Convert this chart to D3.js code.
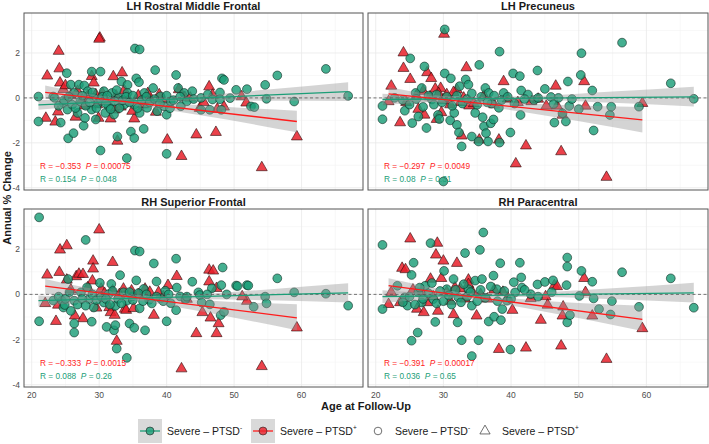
<!DOCTYPE html>
<html>
<head>
<meta charset="utf-8">
<script src="https://cdn.jsdelivr.net/npm/d3@7"></script>
<style>
  body { margin: 0; background: #fff; font-family: "Liberation Sans", Arial, sans-serif; }
  .stat { white-space: pre; }
</style>
</head>
<body>
<div id="container"></div>
<script>
const width = 709;
const height = 444;

const panelTitles = ["LH Rostral Middle Frontal", "LH Precuneus", "RH Superior Frontal", "RH Paracentral"];
const xTicks = [20, 30, 40, 50, 60];
const yTicks = [-4, -2, 0, 2];
const xMinor = [25, 35, 45, 55, 65];
const yMinor = [-3, -1, 1, 3];

// [age, annual % change]  circles = Severe-PTSD-, triangles = Severe-PTSD+
const p1Neg = [[21.0,0.06],[21.0,-1.05],[23.2,0.06],[23.4,0.0],[24.3,-1.1],[24.7,-0.23],[25.2,1.1],[25.3,-0.52],[25.4,-1.8],[25.8,0.59],[26.2,-1.57],[26.3,0.22],[26.8,-0.67],[27.0,0.59],[27.7,-1.24],[27.8,0.55],[27.9,-0.89],[28.3,0.3],[28.9,1.17],[28.9,-0.52],[29.2,0.0],[29.5,-0.96],[29.9,-0.22],[30.2,1.17],[30.2,-2.34],[30.7,0.3],[30.9,-0.67],[31.4,-0.37],[31.9,0.22],[32.2,-0.74],[32.7,-1.72],[32.9,0.0],[33.3,0.73],[33.7,-0.3],[34.1,-2.68],[34.2,0.58],[34.2,0.22],[34.7,-1.5],[35.2,-1.79],[35.2,-0.3],[35.3,2.2],[35.5,0.87],[35.9,0.7],[36.0,2.16],[36.0,-0.67],[36.6,-1.38],[36.7,0.22],[37.1,-0.44],[38.0,0.44],[38.3,1.24],[38.6,-0.59],[39.1,0.07],[39.6,-0.37],[40.0,-0.75],[40.0,-2.49],[40.5,-0.46],[40.6,-0.15],[41.4,1.02],[41.7,0.44],[42.1,-0.37],[42.6,0.22],[43.8,0.3],[45.1,0.0],[45.1,-0.53],[46.1,0.15],[46.4,-0.53],[46.8,-0.07],[47.9,0.24],[47.9,-0.06],[48.1,-0.53],[48.2,0.87],[48.5,0.8],[49.4,-0.01],[50.3,0.36],[51.9,0.39],[52.5,-0.38],[53.0,-0.41],[54.6,0.58],[54.8,-0.04],[56.4,1.0],[58.9,-0.16],[63.6,1.29],[66.9,0.09],
  [24.0,-0.35],[24.8,-0.1],[25.5,0.05],[26.0,-0.3],[26.5,-0.45],[27.2,-0.15],[27.5,0.1],[28.0,-0.35],[28.6,-0.2],[29.0,0.25],[29.6,-0.45],[30.3,-0.1],[30.5,0.05],[31.0,-0.25],[31.2,0.1],[31.7,-0.5],[32.3,-0.15],[32.6,0.35],[33.0,-0.45],[33.5,-0.1],[34.0,0.05],[34.5,-0.2],[35.0,0.1],[35.7,-0.45],[36.3,-0.1],[37.0,0.05],[37.5,-0.2],[38.2,-0.05],[39.0,-0.25],[40.0,0.1],[41.0,-0.1],[42.0,0.05],[43.0,-0.15],[44.0,-0.05]];
const p1Pos = [[22.1,-0.9],[22.3,0.98],[23.5,-1.07],[23.9,-0.62],[24.0,2.08],[24.1,1.3],[24.2,0.67],[24.7,0.38],[25.0,0.55],[26.5,-0.85],[27.5,-0.07],[28.9,0.96],[29.2,0.67],[29.5,0.15],[29.9,-0.9],[30.1,2.67],[30.0,2.62],[31.7,-0.93],[32.1,0.95],[32.3,-0.53],[32.7,-1.92],[33.4,1.12],[33.7,0.34],[35.2,-0.93],[34.9,-0.59],[37.6,-0.07],[38.4,-0.63],[38.9,0.15],[40.1,-1.87],[41.8,0.37],[42.2,-2.6],[42.7,0.03],[44.4,-1.64],[44.9,-0.46],[46.3,0.5],[46.8,0.13],[47.3,-1.53],[47.5,-0.5],[51.1,0.06],[51.8,-0.22],[54.1,-3.1],[59.3,-1.73],
  [25.8,0.1],[26.8,0.3],[27.8,-0.35],[28.3,0.1],[29.7,-0.3],[30.5,0.2],[31.0,-0.15],[32.5,0.1],[33.2,-0.4],[34.2,-0.15],[35.8,0.1],[36.5,-0.3],[37.2,0.2],[39.5,-0.1],[43.5,0.0],[45.5,-0.2],[48.5,-0.4]];

const p2Neg = [[21.0,-0.95],[21.0,-0.36],[22.8,0.0],[24.3,-0.57],[25.1,1.76],[25.4,-1.12],[25.9,0.22],[26.3,-0.83],[26.8,0.44],[27.2,1.4],[27.5,-1.34],[28.3,-0.07],[29.2,-0.76],[29.4,-0.94],[30.0,-3.72],[30.2,3.05],[30.2,1.09],[31.0,-1.0],[31.1,0.87],[31.6,-0.67],[32.0,-1.2],[32.3,-1.54],[32.4,0.52],[32.7,-2.16],[33.3,0.82],[33.7,0.59],[34.2,-1.72],[34.7,-0.67],[35.2,-1.94],[35.3,1.47],[35.8,-0.86],[36.0,-1.27],[36.2,0.44],[36.3,-1.57],[36.6,-1.94],[36.7,0.22],[37.0,-1.13],[37.1,-0.25],[37.4,-0.96],[38.2,-0.44],[38.3,2.06],[38.3,-1.99],[38.9,0.22],[39.9,-1.54],[40.3,1.09],[41.3,0.97],[41.5,0.33],[41.4,-0.76],[42.5,0.15],[43.4,-0.1],[43.9,1.22],[45.0,0.4],[45.9,0.04],[46.3,-0.27],[46.4,-1.1],[47.6,-0.68],[48.1,-1.05],[48.4,0.73],[48.6,-0.36],[50.0,-0.5],[50.3,1.02],[50.4,1.99],[52.0,0.33],[52.2,-1.45],[52.8,-0.39],[54.6,-0.76],[54.8,-0.39],[56.4,2.46],[58.9,-0.39],[63.6,0.65],[67.0,-0.04],
  [24.0,-0.1],[25.0,-0.3],[26.0,-0.05],[27.0,-0.4],[27.8,0.1],[28.6,-0.3],[29.0,0.15],[29.8,-0.2],[30.5,0.05],[31.3,-0.35],[32.0,0.1],[32.8,-0.25],[33.5,-0.05],[34.2,0.2],[35.0,-0.3],[35.6,0.05],[36.5,-0.2],[37.5,0.1],[38.6,-0.1],[39.5,0.05],[40.5,-0.25],[42.0,-0.05],[44.0,0.0],[47.0,0.0],[49.0,-0.05]];
const p2Pos = [[21.9,-0.16],[22.3,0.53],[23.6,-1.1],[24.1,2.01],[24.1,1.32],[25.1,0.83],[26.3,-0.5],[27.2,-0.76],[27.6,1.13],[28.2,0.87],[29.0,-0.95],[29.6,0.43],[29.7,-0.65],[30.1,2.84],[32.0,0.36],[32.7,-1.69],[33.4,1.35],[35.3,-1.87],[38.2,-1.87],[38.9,0.73],[40.7,-2.93],[42.2,-2.13],[43.0,-0.16],[45.2,-0.36],[46.6,0.53],[46.8,-0.36],[47.4,-2.39],[47.6,-0.76],[50.8,0.73],[51.0,-0.36],[54.1,-3.53],[59.4,-0.24],
  [24.5,-0.2],[26.0,0.1],[27.0,0.3],[28.0,0.05],[28.8,0.4],[29.3,0.2],[30.0,-0.1],[30.5,0.15],[31.0,-0.3],[31.5,0.25],[32.5,-0.2],[33.0,0.0],[33.8,-0.35],[34.5,-0.25],[36.0,0.1],[37.5,-0.3],[39.5,-0.05],[41.0,-0.2],[44.0,-0.05]];

const p3Neg = [[21.1,3.41],[21.1,-1.19],[23.2,-0.27],[24.5,-0.28],[24.7,-0.58],[24.9,-0.47],[25.4,0.68],[25.8,-0.73],[26.3,-1.29],[26.3,-1.69],[26.3,-0.28],[27.3,0.09],[28.0,2.41],[28.2,0.31],[28.5,-0.21],[28.9,-1.21],[29.2,-0.58],[30.1,0.51],[30.7,-0.36],[31.1,-1.44],[31.4,0.01],[31.8,0.46],[32.2,-1.59],[32.4,-1.36],[32.4,-0.51],[32.6,-2.4],[33.1,0.85],[33.6,0.09],[34.1,-2.81],[34.1,-0.28],[34.5,-1.29],[34.9,-0.09],[35.2,-1.48],[35.3,1.94],[35.5,0.62],[36.0,1.9],[36.0,-0.62],[36.6,0.24],[36.8,-1.59],[37.4,-0.24],[38.1,1.37],[38.5,0.57],[39.1,-0.18],[39.8,0.16],[40.0,-1.19],[40.6,-0.39],[41.4,1.58],[41.5,0.3],[41.4,-0.7],[42.0,-0.09],[42.8,-0.21],[43.8,0.56],[44.7,0.09],[44.9,-0.03],[45.2,-0.36],[46.4,-0.44],[46.7,0.27],[48.0,-0.92],[48.1,0.41],[48.3,1.19],[48.5,-0.77],[48.9,0.0],[50.3,0.39],[50.5,0.37],[51.9,0.41],[52.1,0.39],[52.9,-0.55],[54.6,-0.1],[54.8,-0.4],[56.4,0.71],[58.9,0.09],[63.6,0.03],[66.9,-0.5],
  [24.0,-0.1],[25.0,-0.2],[25.6,0.1],[26.8,-0.45],[27.5,-0.2],[28.0,-0.5],[29.0,0.0],[29.6,-0.25],[30.3,-0.1],[31.0,-0.2],[31.6,-0.45],[32.0,0.15],[32.8,-0.2],[33.3,-0.4],[34.5,0.1],[35.0,-0.25],[35.8,0.05],[36.5,-0.3],[37.0,0.0],[37.8,-0.4],[38.5,-0.1],[39.5,-0.3],[40.3,0.0],[43.0,-0.1],[46.0,0.0]];
const p3Pos = [[22.0,-0.4],[22.3,0.86],[23.6,-1.19],[23.9,-0.47],[24.1,0.98],[24.2,1.97],[25.2,2.16],[25.2,0.64],[26.4,-0.95],[26.6,0.79],[27.0,0.9],[27.6,0.89],[27.6,-1.07],[29.0,0.6],[29.1,1.48],[29.1,1.13],[29.6,-0.6],[30.0,2.86],[30.3,0.24],[31.5,-0.58],[31.7,-0.8],[32.0,1.42],[32.0,0.16],[32.3,-0.92],[32.6,-2.07],[33.6,0.24],[33.8,-0.65],[34.0,-0.7],[34.8,0.16],[35.1,-0.62],[36.8,0.24],[38.1,-0.92],[38.8,0.09],[40.2,0.4],[41.5,0.8],[42.2,-3.29],[43.0,-0.21],[44.4,-1.73],[45.3,-0.8],[46.3,1.08],[46.9,1.04],[46.3,0.56],[46.5,-1.04],[47.4,-1.73],[47.7,-1.29],[47.4,0.27],[51.9,-0.3],[51.2,-0.1],[54.1,-3.19],[59.3,-1.48],
  [25.8,0.2],[28.3,0.3],[30.8,0.05],[33.0,0.0],[35.8,0.0],[37.5,0.1],[39.5,-0.1]];

const p4Neg = [[21.0,2.19],[21.0,-0.65],[23.2,0.38],[24.3,-0.13],[24.7,-0.5],[25.3,0.86],[25.3,-2.05],[25.6,1.4],[26.2,-1.69],[26.3,0.09],[26.8,-0.36],[27.3,0.38],[28.1,2.27],[28.5,-0.21],[28.8,-1.22],[30.1,1.04],[30.5,0.23],[31.5,0.68],[32.1,-1.24],[32.2,-0.13],[32.7,-2.03],[33.2,1.83],[33.7,0.23],[34.2,-0.5],[34.2,-2.73],[34.7,0.61],[35.2,-2.03],[35.4,1.97],[35.7,0.68],[35.9,2.74],[36.7,-1.2],[37.4,0.83],[37.5,-0.99],[37.9,0.23],[38.4,1.38],[38.5,-1.14],[38.7,-0.65],[39.4,-0.28],[39.9,-2.44],[40.4,0.54],[40.6,0.09],[41.3,1.4],[41.5,0.75],[41.6,0.3],[42.9,0.01],[43.9,0.44],[45.0,0.55],[46.2,0.62],[48.2,0.41],[48.3,1.63],[48.3,1.23],[48.3,-1.24],[48.7,-0.92],[50.1,-0.07],[50.4,1.04],[52.0,0.56],[52.2,-0.18],[53.0,-0.65],[54.7,-0.89],[54.9,-0.3],[56.4,0.98],[58.9,-0.55],[63.6,0.71],[67.0,-0.59],
  [24.0,-0.35],[25.0,-0.1],[25.8,-0.45],[26.5,0.3],[27.0,-0.2],[27.8,0.05],[28.3,0.5],[29.0,-0.4],[29.5,0.15],[30.0,-0.3],[30.8,-0.05],[31.2,-0.45],[31.8,0.2],[32.6,-0.35],[33.0,0.45],[33.5,-0.1],[34.0,0.1],[35.0,-0.3],[35.5,0.2],[36.2,-0.15],[37.0,0.35],[38.0,-0.3],[39.0,0.15],[40.0,-0.2],[42.0,0.2],[44.0,-0.1],[46.0,0.1]];
const p4Pos = [[21.9,-0.44],[22.3,0.09],[23.6,-0.36],[23.9,1.16],[24.4,1.1],[25.1,2.46],[26.1,-0.65],[27.1,-0.8],[27.6,-0.36],[28.1,0.68],[28.9,1.75],[29.1,2.27],[29.2,-0.74],[29.7,0.71],[30.0,1.48],[31.5,-0.89],[31.7,0.3],[32.0,1.38],[33.7,0.64],[33.7,0.44],[34.9,-0.95],[38.2,-2.43],[40.2,-0.7],[42.2,-2.37],[42.9,-0.18],[44.4,-1.14],[45.1,-0.1],[45.4,-0.47],[46.4,0.39],[46.8,0.35],[47.4,-2.28],[47.6,-0.95],[47.7,-0.55],[50.8,0.71],[51.0,0.09],[52.0,-0.95],[54.1,-2.87],[59.4,-1.51],
  [25.5,0.2],[26.8,0.1],[28.5,-0.1],[30.5,0.1],[31.0,-0.3],[32.5,0.25],[33.2,-0.2],[34.3,0.1],[35.5,0.0],[36.5,-0.2],[37.5,0.2],[38.8,0.1],[39.5,-0.15]];

// fitted lines [age, value] and confidence bands [age, lower, upper]
const p1NegLine = [[21.0,-0.31],[66.9,0.28]];
const p1NegBand = [[21.0,-0.53,-0.09],[28,-0.35,-0.09],[35,-0.21,-0.05],[45,-0.12,0.12],[55,-0.13,0.37],[66.9,-0.14,0.70]];
const p1PosLine = [[22.0,0.25],[59.3,-1.05]];
const p1PosBand = [[22.0,-0.05,0.55],[28,-0.12,0.2],[34,-0.29,-0.05],[45,-0.77,-0.33],[59.3,-1.53,-0.57]];
const p2NegLine = [[21.0,-0.07],[67.0,0.05]];
const p2NegBand = [[21.0,-0.32,0.18],[28,-0.18,0.08],[36,-0.1,0.05],[45,-0.1,0.1],[55,-0.22,0.28],[67.0,-0.38,0.5]];
const p2PosLine = [[21.9,0.18],[59.4,-0.98]];
const p2PosBand = [[21.9,-0.13,0.49],[28,-0.18,0.16],[34,-0.32,-0.06],[45,-0.78,-0.28],[59.4,-1.54,-0.4]];
const p3NegLine = [[21.0,-0.28],[66.9,0.07]];
const p3NegBand = [[21.0,-0.53,-0.05],[28,-0.36,-0.1],[36,-0.25,-0.09],[45,-0.21,0.01],[55,-0.26,0.22],[66.9,-0.36,0.49]];
const p3PosLine = [[22.0,0.37],[59.3,-1.04]];
const p3PosBand = [[22.0,0.02,0.68],[28,-0.03,0.31],[34,-0.2,0.04],[45,-0.75,-0.25],[59.3,-1.59,-0.44]];
const p4NegLine = [[21.0,-0.1],[67.0,0.07]];
const p4NegBand = [[21.0,-0.38,0.18],[28,-0.21,0.07],[36,-0.12,0.04],[45,-0.12,0.1],[55,-0.21,0.27],[67.0,-0.36,0.52]];
const p4PosLine = [[21.9,0.39],[59.4,-1.11]];
const p4PosBand = [[21.9,0.05,0.71],[28,-0.02,0.32],[34,-0.21,0.03],[45,-0.77,-0.29],[59.4,-1.62,-0.5]];

const rPos = ["\u22120.353", "\u22120.297", "\u22120.333", "\u22120.391"];
const pPos = ["0.00075", "0.0049", "0.0015", "0.00017"];
const rNeg = ["0.154", "0.08", "0.088", "0.036"];
const pNeg = ["0.048", "0.31", "0.26", "0.65"];

const teal = "#1b9e77";
const red = "#e8202a";
const redLine = "#ff1c1c";

const panels = [
  { neg: p1Neg, pos: p1Pos, negLine: p1NegLine, negBand: p1NegBand, posLine: p1PosLine, posBand: p1PosBand, left: 24, right: 363, top: 13, bottom: 190, yAxis: true, xAxis: false },
  { neg: p2Neg, pos: p2Pos, negLine: p2NegLine, negBand: p2NegBand, posLine: p2PosLine, posBand: p2PosBand, left: 368, right: 708, top: 13, bottom: 190, yAxis: false, xAxis: false },
  { neg: p3Neg, pos: p3Pos, negLine: p3NegLine, negBand: p3NegBand, posLine: p3PosLine, posBand: p3PosBand, left: 24, right: 363, top: 209, bottom: 387, yAxis: true, xAxis: true },
  { neg: p4Neg, pos: p4Pos, negLine: p4NegLine, negBand: p4NegBand, posLine: p4PosLine, posBand: p4PosBand, left: 368, right: 708, top: 209, bottom: 387, yAxis: false, xAxis: true }
];

let svg = d3.select("#container").append("svg")
  .attr("width", width)
  .attr("height", height)
  .attr("viewBox", `0 0 ${width} ${height}`);

let tri = d3.symbol().type(d3.symbolTriangle).size(52);

panels.forEach((p, i) => {
  let x = d3.scaleLinear().domain([18.86, 69.1]).range([p.left, p.right]);
  let y = d3.scaleLinear().domain([-4.1, 3.78]).range([p.bottom, p.top]);

  let g = svg.append("g");

  // grid
  g.append("g").selectAll("line").data(xMinor).join("line")
    .attr("x1", d => x(d)).attr("x2", d => x(d)).attr("y1", p.top).attr("y2", p.bottom)
    .attr("stroke", "#f3f3f3").attr("stroke-width", 0.6);
  g.append("g").selectAll("line").data(yMinor).join("line")
    .attr("x1", p.left).attr("x2", p.right).attr("y1", d => y(d)).attr("y2", d => y(d))
    .attr("stroke", "#f3f3f3").attr("stroke-width", 0.6);
  g.append("g").selectAll("line").data(xTicks).join("line")
    .attr("x1", d => x(d)).attr("x2", d => x(d)).attr("y1", p.top).attr("y2", p.bottom)
    .attr("stroke", "#e8e8e8").attr("stroke-width", 0.8);
  g.append("g").selectAll("line").data(yTicks).join("line")
    .attr("x1", p.left).attr("x2", p.right).attr("y1", d => y(d)).attr("y2", d => y(d))
    .attr("stroke", "#e8e8e8").attr("stroke-width", 0.8);

  // points: triangles under circles
  g.append("g").selectAll("path").data(p.pos).join("path")
    .attr("d", tri)
    .attr("transform", d => "translate(" + x(d[0]) + "," + y(d[1]) + ")")
    .attr("fill", red).attr("fill-opacity", 0.85)
    .attr("stroke", "#2a0a0a").attr("stroke-width", 0.6);
  g.append("g").selectAll("circle").data(p.neg).join("circle")
    .attr("cx", d => x(d[0])).attr("cy", d => y(d[1])).attr("r", 4.4)
    .attr("fill", teal).attr("fill-opacity", 0.82)
    .attr("stroke", "#0f2a22").attr("stroke-width", 0.6);

  // confidence bands
  let area = d3.area().x(d => x(d[0])).y0(d => y(d[1])).y1(d => y(d[2])).curve(d3.curveMonotoneX);
  g.append("path").datum(p.negBand).attr("d", area).attr("fill", "#999").attr("fill-opacity", 0.42);
  g.append("path").datum(p.posBand).attr("d", area).attr("fill", "#999").attr("fill-opacity", 0.42);

  // zero reference
  g.append("line").attr("x1", p.left).attr("x2", p.right).attr("y1", y(0)).attr("y2", y(0))
    .attr("stroke", "#555").attr("stroke-width", 0.8).attr("stroke-dasharray", "3,2.5");

  let line = d3.line().x(d => x(d[0])).y(d => y(d[1]));
  g.append("path").datum(p.negLine).attr("d", line).attr("fill", "none").attr("stroke", teal).attr("stroke-width", 1.3);
  g.append("path").datum(p.posLine).attr("d", line).attr("fill", "none").attr("stroke", redLine).attr("stroke-width", 1.3);

  // border
  g.append("rect").attr("x", p.left).attr("y", p.top)
    .attr("width", p.right - p.left).attr("height", p.bottom - p.top)
    .attr("fill", "none").attr("stroke", "#555").attr("stroke-width", 1);

  // title
  g.append("text").text(panelTitles[i])
    .attr("x", (p.left + p.right) / 2).attr("y", p.top - 3.5)
    .attr("text-anchor", "middle").attr("font-size", "11px").attr("font-weight", "bold").attr("fill", "#1a1a1a");

  // stats
  let s1 = g.append("text").attr("class", "stat").attr("x", p.left + 16).attr("y", p.bottom - 21.5)
    .attr("font-size", "8.3px").attr("fill", redLine);
  s1.append("tspan").text("R = " + rPos[i] + "  ");
  s1.append("tspan").text("P").attr("font-style", "italic");
  s1.append("tspan").text(" = " + pPos[i]);
  let s2 = g.append("text").attr("class", "stat").attr("x", p.left + 16).attr("y", p.bottom - 8)
    .attr("font-size", "8.3px").attr("fill", teal);
  s2.append("tspan").text("R = " + rNeg[i] + "  ");
  s2.append("tspan").text("P").attr("font-style", "italic");
  s2.append("tspan").text(" = " + pNeg[i]);

  if (p.yAxis) {
    g.append("g").selectAll("text").data(yTicks).join("text")
      .text(d => d)
      .attr("x", p.left - 4).attr("y", d => y(d)).attr("dy", "0.35em")
      .attr("text-anchor", "end").attr("font-size", "8.5px").attr("fill", "#4d4d4d");
  }
  if (p.xAxis) {
    g.append("g").selectAll("text").data(xTicks).join("text")
      .text(d => d)
      .attr("x", d => x(d)).attr("y", p.bottom + 10.5)
      .attr("text-anchor", "middle").attr("font-size", "8.5px").attr("fill", "#4d4d4d");
  }
});

// axis titles
svg.append("text").text("Annual % Change")
  .attr("transform", "translate(11,198) rotate(-90)")
  .attr("text-anchor", "middle").attr("font-size", "11px").attr("font-weight", "bold").attr("fill", "#1a1a1a");
svg.append("text").text("Age at Follow-Up")
  .attr("x", 366).attr("y", 410)
  .attr("text-anchor", "middle").attr("font-size", "11px").attr("font-weight", "bold").attr("fill", "#1a1a1a");

// legend
let legendY = 431;
let lg = svg.append("g");
function legendLabel(x0, sign) {
  let t = lg.append("text").attr("x", x0).attr("y", legendY + 3.8)
    .attr("font-size", "10.5px").attr("fill", "#1a1a1a");
  t.append("tspan").text("Severe \u2013 PTSD");
  t.append("tspan").text(sign).attr("font-size", "6.5px").attr("dy", "-4.5");
}
[[138, teal, "-"], [251, red, "+"]].forEach(([bx, c, s]) => {
  lg.append("rect").attr("x", bx).attr("y", legendY - 12).attr("width", 24).attr("height", 24).attr("fill", "#d9d9d9");
  lg.append("line").attr("x1", bx + 2).attr("x2", bx + 22).attr("y1", legendY).attr("y2", legendY)
    .attr("stroke", c === teal ? teal : redLine).attr("stroke-width", 1.3);
  lg.append("circle").attr("cx", bx + 12).attr("cy", legendY).attr("r", 4)
    .attr("fill", c).attr("fill-opacity", 0.8).attr("stroke", "#222").attr("stroke-width", 0.6);
  legendLabel(bx + 29, s);
});
lg.append("circle").attr("cx", 378).attr("cy", legendY).attr("r", 3.8)
  .attr("fill", "none").attr("stroke", "#333").attr("stroke-width", 0.7);
legendLabel(395, "-");
lg.append("path").attr("d", d3.symbol().type(d3.symbolTriangle).size(45))
  .attr("transform", "translate(485," + legendY + ")")
  .attr("fill", "none").attr("stroke", "#333").attr("stroke-width", 0.7);
legendLabel(502, "+");
</script>
</body>
</html>
